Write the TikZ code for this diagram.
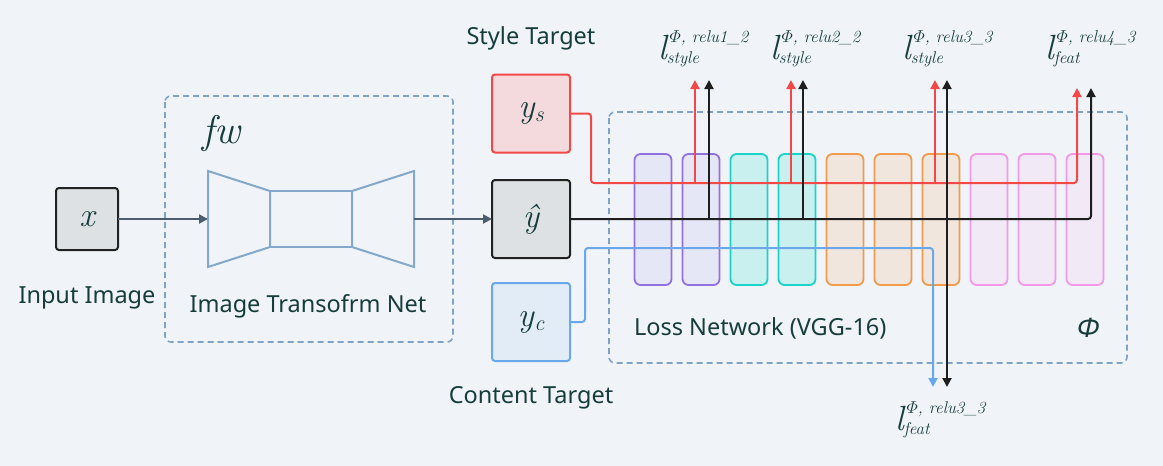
\documentclass[tikz,border=0pt]{standalone}
\usepackage{fontspec}
\usepackage{amsmath}
\setsansfont{Noto Sans}
\usetikzlibrary{arrows.meta}
\definecolor{bg}{HTML}{F0F4F9}
\definecolor{txt}{HTML}{163D3C}
\definecolor{dashcol}{HTML}{7EA3C6}
\definecolor{trapcol}{HTML}{84A8C9}
\definecolor{arrcol}{HTML}{4B5D6E}
\definecolor{grayfill}{HTML}{DDE1E4}
\definecolor{darkline}{HTML}{222222}
\definecolor{redfill}{HTML}{F5DADD}
\definecolor{redline}{HTML}{F24848}
\definecolor{bluefill}{HTML}{E1ECF7}
\definecolor{blueline}{HTML}{6AA8EC}
\definecolor{purpfill}{HTML}{E6E7F6}
\definecolor{purpline}{HTML}{9171E0}
\definecolor{tealfill}{HTML}{C9EFEF}
\definecolor{tealline}{HTML}{19D4C9}
\definecolor{orfill}{HTML}{F1E6DD}
\definecolor{orline}{HTML}{F29B4C}
\definecolor{pkfill}{HTML}{F1E9F5}
\definecolor{pkline}{HTML}{F299E8}
\definecolor{blk}{HTML}{1E1E1E}
\newcommand{\lblscr}{\fontsize{17}{19}\selectfont\itshape}
\newcommand{\losslabel}[2]{{\fontsize{35}{37}\selectfont\itshape l}\rlap{\raisebox{17pt}{\lblscr\,$\varPhi$, #1}}\raisebox{-4pt}{\lblscr #2}}
\newcommand{\boxsub}[1]{\kern0.5pt\raisebox{-4pt}{\fontsize{22}{24}\selectfont #1}}
\begin{document}
\begin{tikzpicture}[x=1pt,y=-1pt,
  every node/.style={inner sep=0pt, outer sep=0pt},
  sans/.style={text=txt, font=\sffamily\fontsize{23.5}{28}\selectfont},
  mbox/.style={rounded corners=3pt, line width=2pt, minimum width=78pt, minimum height=78pt, text=txt, font=\itshape\fontsize{34}{38}\selectfont},
  layer/.style={rounded corners=6pt, line width=1.8pt, minimum width=37pt, minimum height=131pt},
  dashedbox/.style={draw=dashcol, line width=1.6pt, dash pattern=on 6pt off 4pt, rounded corners=6pt},
  trap/.style={draw=trapcol, line width=2pt},
  conn/.style={line width=2pt, rounded corners=3pt, -{Triangle[length=9pt,width=9pt]}},
  ]
\fill[bg] (0,0) rectangle (1163,466);
\useasboundingbox (0,0) rectangle (1163,466);

% dashed groups
\draw[dashedbox] (165,96) rectangle (453,342);
\draw[dashedbox] (609,112) rectangle (1127,363);

% transform net shape
\draw[trap] (208,171) -- (270,191) -- (270,247) -- (208,267) -- cycle;
\draw[trap] (270,191) rectangle (352,247);
\draw[trap] (352,191) -- (414,171) -- (414,267) -- (352,247) -- cycle;
\coordinate (tin) at (208,219);
\coordinate (tout) at (414,219);

% main nodes
\node[mbox, fill=grayfill, draw=darkline, minimum width=62pt, minimum height=62pt] (x) at (87,219) {x};
\node[sans] (inlbl) at (87,298) {Input Image};
\node[font=\itshape\fontsize{40}{44}\selectfont, text=txt, anchor=base] (fw) at (221,143) {fw};
\node[sans] (tnlbl) at (308,306) {Image Transofrm Net};
\node[mbox, fill=redfill, draw=redline] (ys) at (531,113.5) {y\boxsub{s}};
\node[mbox, fill=grayfill, draw=darkline] (yh) at (531,219) {ŷ};
\node[mbox, fill=bluefill, draw=blueline] (yc) at (531,322) {y\boxsub{c}};
\node[sans] (st) at (531,38) {Style Target};
\node[sans] (ct) at (531,398) {Content Target};
\node[sans, anchor=west] (ln) at (634,328) {Loss Network (VGG-16)};
\node[text=txt, font=\sffamily\bfseries\itshape\fontsize{27}{30}\selectfont] (phi) at (1088,328) {Φ};

% VGG layers
\foreach \i/\f/\d in {0/purpfill/purpline,1/purpfill/purpline,2/tealfill/tealline,3/tealfill/tealline,4/orfill/orline,5/orfill/orline,6/orfill/orline,7/pkfill/pkline,8/pkfill/pkline,9/pkfill/pkline}
  \node[layer, fill=\f, draw=\d] (L\i) at ({653+48*\i},219.5) {};

% input arrows
\draw[conn, arrcol] (x.east) -- (tin);
\draw[conn, arrcol] (tout) -- (yh.west);

% arrow end points
\coordinate (r1) at (695,80);
\coordinate (r2) at (791,80);
\coordinate (r3) at (935,80);
\coordinate (r4) at (1077,88);
\coordinate (rj) at (591,183);
\coordinate (b1) at (709,80);
\coordinate (b2) at (803,80);
\coordinate (b3) at (947,80);
\coordinate (b4) at (1091,88);
\coordinate (bd) at (947,387);
\coordinate (bj) at (585,248);
\coordinate (bc) at (933,387);

% content (blue)
\draw[conn, blueline] (yc.east) -| (bj) -| (bc);
% style (red)
\draw[conn, redline] (ys.east) -| (rj) -| (r4);
\draw[conn, redline] (r1 |- rj) -- (r1);
\draw[conn, redline] (r2 |- rj) -- (r2);
\draw[conn, redline] (r3 |- rj) -- (r3);
% output (black)
\draw[conn, blk] (yh.east) -| (b4);
\draw[conn, blk] (b1 |- yh.east) -- (b1);
\draw[conn, blk] (b2 |- yh.east) -- (b2);
\draw[conn, blk] (b3 |- yh.east) -- (b3);
\draw[conn, blk] (b3 |- yh.east) -- (bd);

% loss labels
\node[anchor=base west, text=txt] (lab1) at (658,59) {\losslabel{relu1\_2}{style}};
\node[anchor=base west, text=txt] (lab2) at (770,59) {\losslabel{relu2\_2}{style}};
\node[anchor=base west, text=txt] (lab3) at (902,59) {\losslabel{relu3\_3}{style}};
\node[anchor=base west, text=txt] (lab4) at (1045,59) {\losslabel{relu4\_3}{feat}};
\node[anchor=base west, text=txt] (lab5) at (895,430) {\losslabel{relu3\_3}{feat}};
\end{tikzpicture}
\end{document}
